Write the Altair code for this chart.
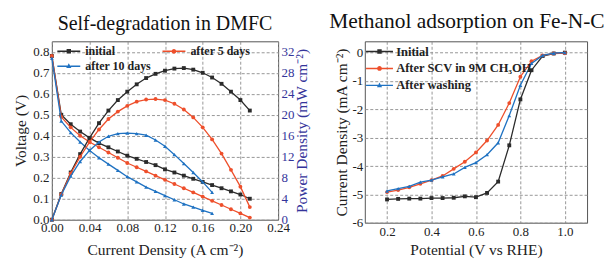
import altair as alt
import pandas as pd

# ---------------- Left panel: Self-degradation in DMFC ----------------
dmfc_series = ["initial", "after 5 days", "after 10 days"]
dmfc_colors = ["#2b2b2b", "#ee4f2b", "#1f72c2"]
dmfc_shapes = ["square", "circle", "triangle-up"]

current_long = [0.00, 0.01, 0.02, 0.03, 0.04, 0.05, 0.06, 0.07, 0.08, 0.09, 0.10,
                0.11, 0.12, 0.13, 0.14, 0.15, 0.16, 0.17, 0.18, 0.19, 0.20, 0.21]
current_short = [0.00, 0.01, 0.02, 0.03, 0.04, 0.05, 0.06, 0.07, 0.08, 0.09, 0.10,
                 0.11, 0.12, 0.13, 0.14, 0.15, 0.16, 0.17]

volt_initial = [0.78, 0.50, 0.455, 0.42, 0.39, 0.365, 0.345, 0.325, 0.305, 0.29, 0.275,
                0.26, 0.24, 0.225, 0.21, 0.195, 0.18, 0.165, 0.15, 0.135, 0.12, 0.10]
volt_5days = [0.78, 0.49, 0.44, 0.40, 0.37, 0.345, 0.32, 0.295, 0.27, 0.25, 0.23,
              0.21, 0.19, 0.17, 0.15, 0.13, 0.11, 0.09, 0.07, 0.05, 0.03, 0.01]
volt_10days = [0.77, 0.47, 0.415, 0.37, 0.33, 0.295, 0.265, 0.235, 0.205, 0.18, 0.155,
               0.135, 0.115, 0.095, 0.075, 0.06, 0.045, 0.03]

power_initial = [0.0, 4.9, 9.0, 12.5, 15.6, 18.4, 20.8, 22.8, 24.4, 25.8, 27.0,
                 27.8, 28.4, 28.8, 28.9, 28.6, 28.0, 27.1, 25.9, 24.4, 22.8, 20.8]
power_5days = [0.0, 4.8, 8.8, 12.0, 14.8, 17.2, 19.2, 20.6, 21.7, 22.5, 22.9,
               23.0, 22.8, 22.1, 21.0, 19.5, 17.6, 15.3, 12.6, 9.5, 6.3, 2.4]
power_10days = [0.0, 4.7, 8.3, 11.1, 13.2, 14.8, 15.9, 16.4, 16.5, 16.4, 16.1,
                15.2, 14.0, 12.4, 10.7, 9.0, 7.2, 5.2]

left_x_ticks = [0.00, 0.04, 0.08, 0.12, 0.16, 0.20, 0.24]
volt_ticks = [0.0, 0.1, 0.2, 0.3, 0.4, 0.5, 0.6, 0.7, 0.8]
power_ticks = [0, 4, 8, 12, 16, 20, 24, 28, 32]

# ---------------- Right panel: Methanol adsorption on Fe-N-C ----------------
orr_series = ["Initial", "After SCV in 9M CH\u2083OH", "After washing"]
orr_colors = ["#2b2b2b", "#ee4f2b", "#1f72c2"]
orr_shapes = ["square", "circle", "triangle-up"]

potential = [0.20, 0.25, 0.30, 0.35, 0.40, 0.45, 0.50, 0.55, 0.60,
             0.65, 0.70, 0.75, 0.80, 0.85, 0.90, 0.95, 1.00]
j_initial = [-5.18, -5.16, -5.15, -5.15, -5.13, -5.13, -5.12, -5.07, -5.10,
             -4.95, -4.55, -3.27, -1.65, -0.62, -0.12, -0.03, 0.0]
j_scv = [-4.92, -4.85, -4.75, -4.63, -4.50, -4.35, -4.10, -3.85, -3.52,
         -3.10, -2.55, -1.78, -0.85, -0.30, -0.10, -0.03, -0.02]
j_washing = [-4.88, -4.80, -4.72, -4.57, -4.50, -4.38, -4.28, -4.05, -3.88,
             -3.60, -3.18, -2.22, -1.15, -0.38, -0.10, -0.02, 0.0]

right_x_ticks = [0.2, 0.4, 0.6, 0.8, 1.0]
j_ticks = [-6, -5, -4, -3, -2, -1, 0]

navy = "#34349a"
SERIF = "Liberation Serif"

# ---------------- tables ----------------
rows = []
for name, xs, vs, ps in [
    (dmfc_series[0], current_long, volt_initial, power_initial),
    (dmfc_series[1], current_long, volt_5days, power_5days),
    (dmfc_series[2], current_short, volt_10days, power_10days),
]:
    for x, v, p in zip(xs, vs, ps):
        rows.append({"series": name, "current": x, "voltage": v, "power": p})
df_left = pd.DataFrame(rows)

rows = []
for name, js in zip(orr_series, [j_initial, j_scv, j_washing]):
    for x, j in zip(potential, js):
        rows.append({"series": name, "potential": x, "j": j})
df_right = pd.DataFrame(rows)


# legend symbol paths: a line with the marker in the middle (unit = sqrt(size)/2)
def sym_path(half_len, marker):
    line = (f"M{-half_len},-0.14H-0.3V0.14H{-half_len}Z "
            f"M0.3,-0.14H{half_len}V0.14H0.3Z ")
    marks = {
        "square": "M-0.44,-0.44H0.44V0.44H-0.44Z",
        "circle": "M0.48,0A0.48,0.48 0 1,1 -0.48,0A0.48,0.48 0 1,1 0.48,0Z",
        "triangle-up": "M0,-0.58L0.52,0.36H-0.52Z",
    }
    return line + marks[marker]


grid_kw = dict(grid=True, gridColor="#8c8c8c", gridDash=[3, 2], gridWidth=0.9,
               labelFont=SERIF, titleFont=SERIF, labelFlush=False)


def series_layers(base, field_x, x_enc, y_enc, series, colors, shapes):
    out = []
    for s, c, sh in zip(series, colors, shapes):
        sub = base.transform_filter(alt.datum.series == s)
        out.append(sub.mark_line(strokeWidth=1.3, color=c).encode(x=x_enc, y=y_enc,
                                                                    order=field_x))
        out.append(sub.mark_point(filled=True, size=15, opacity=1, shape=sh, color=c)
                   .encode(x=x_enc, y=y_enc))
    return out


def legend_layer(df, series, colors, shapes, half_len, legend):
    return alt.Chart(df).transform_filter("false").mark_point(
        filled=True, opacity=1).encode(
        color=alt.Color("series:N", scale=alt.Scale(domain=series, range=colors),
                        legend=legend),
        shape=alt.Shape("series:N",
                        scale=alt.Scale(domain=series,
                                        range=[sym_path(half_len, m) for m in shapes]),
                        legend=legend))


# ---------------- left chart ----------------
x_left = alt.X("current:Q", scale=alt.Scale(domain=[0, 0.24], nice=False, zero=False),
               axis=alt.Axis(values=left_x_ticks, format=".2f", labelPadding=2,
                             titlePadding=8,
                             title="Current Density (A cm\u207b\u00b2)", **grid_kw))
y_volt = alt.Y("voltage:Q", scale=alt.Scale(domain=[0, 0.85], nice=False),
               axis=alt.Axis(values=volt_ticks, format=".1f", title="Voltage (V)",
                             labelPadding=3, titlePadding=4, **grid_kw))
y_pow = alt.Y("power:Q", scale=alt.Scale(domain=[0, 34], nice=False),
              axis=alt.Axis(orient="right", values=power_ticks, format="d",
                            title="Power Density (mW cm\u207b\u00b2)", labelColor=navy,
                            titleColor=navy, grid=False, titleAngle=270,
                            titleBaseline="top", labelPadding=3, titlePadding=0,
                            labelFont=SERIF, titleFont=SERIF))

left_legend = alt.Legend(
    title=None, orient="none", legendX=11, legendY=4, columns=2, direction="horizontal",
    symbolSize=100, labelFontWeight="bold", labelFontSize=12, labelOffset=10.5,
    labelFont=SERIF, padding=0, rowPadding=3, columnPadding=10.5,
    symbolStrokeWidth=0)

base_l = alt.Chart(df_left)
volt_group = alt.layer(*series_layers(base_l, "current:Q", x_left, y_volt,
                                      dmfc_series, dmfc_colors, dmfc_shapes))
power_group = alt.layer(*series_layers(base_l, "current:Q", x_left, y_pow,
                                       dmfc_series, dmfc_colors, dmfc_shapes))
left = alt.layer(
    volt_group, power_group,
    legend_layer(df_left, dmfc_series, dmfc_colors, dmfc_shapes, 2.3, left_legend)
).resolve_scale(y="independent").properties(
    width=227, height=179,
    title=alt.Title("Self-degradation in DMFC", offset=7, anchor="middle",
                    frame="group", fontSize=20))

# ---------------- right chart ----------------
x_right = alt.X("potential:Q", scale=alt.Scale(domain=[0.1, 1.1], nice=False, zero=False),
                axis=alt.Axis(values=right_x_ticks, format=".1f", labelPadding=3,
                              titlePadding=4, title="Potential (V vs RHE)", **grid_kw))
y_right = alt.Y("j:Q", scale=alt.Scale(domain=[-6, 0.4], nice=False, zero=False),
                axis=alt.Axis(values=j_ticks, labelExpr="toString(datum.value)",
                              labelPadding=2, titlePadding=3,
                              title="Current Density (mA cm\u207b\u00b2)", **grid_kw))

right_legend = alt.Legend(
    title=None, orient="none", legendX=8.5, legendY=4, columns=1,
    symbolSize=100, labelFontWeight="bold", labelFontSize=12.5, labelOffset=10.5,
    labelFont=SERIF, padding=0, rowPadding=4, symbolStrokeWidth=0)

base_r = alt.Chart(df_right)
right = alt.layer(
    *series_layers(base_r, "potential:Q", x_right, y_right,
                   orr_series, orr_colors, orr_shapes),
    legend_layer(df_right, orr_series, orr_colors, orr_shapes, 2.7, right_legend)
).properties(
    width=223, height=182,
    title=alt.Title("Methanol adsorption on Fe-N-C", offset=9, anchor="middle",
                    frame="group", dx=-9, fontSize=21.5))

chart = alt.hconcat(left, right, spacing=18).resolve_scale(
    color="independent", shape="independent").resolve_legend(
    color="independent", shape="independent").configure(
    font=SERIF, padding={"left": 5, "top": 2, "right": 0, "bottom": 0}
).configure_view(stroke="#555555", strokeWidth=1).configure_axis(
    domain=False, ticks=False, labelFontSize=13, titleFontSize=15.5,
    labelColor="#222222", titleColor="#222222", titleFontWeight="normal",
    labelFont=SERIF, titleFont=SERIF).configure_title(
    font=SERIF, fontWeight="normal", color="#111111"
).configure_legend(labelFont=SERIF, labelColor="#222222")

chart.save("out.html", embed_options={"renderer": "svg", "actions": False})
